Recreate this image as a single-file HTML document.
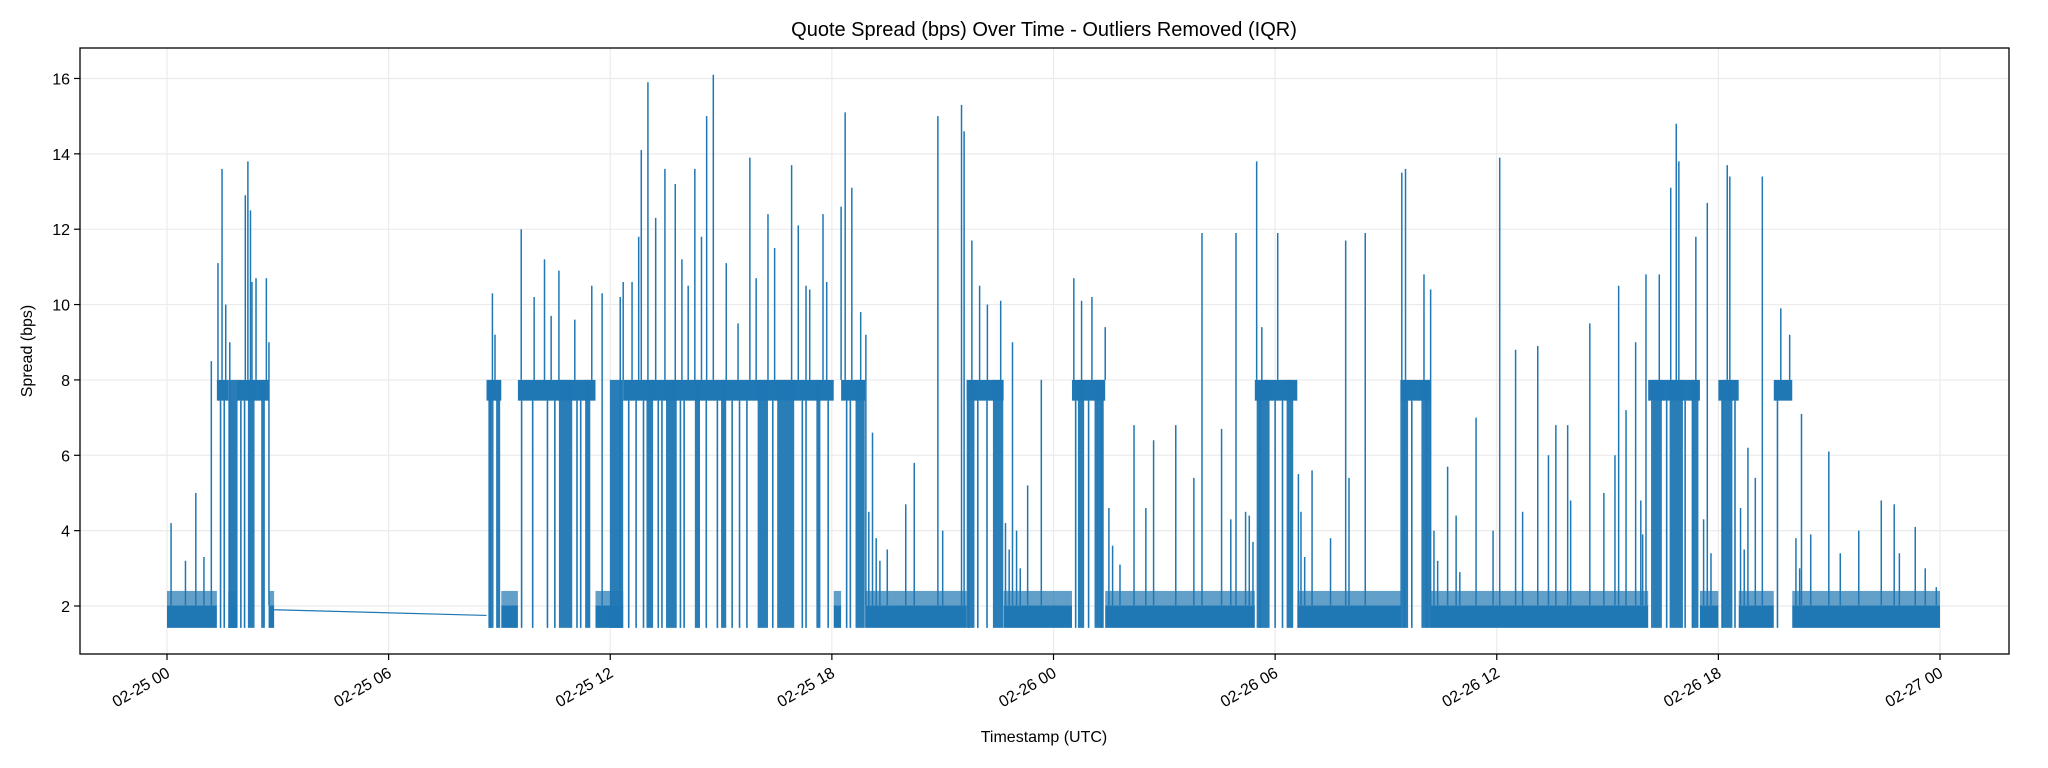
<!DOCTYPE html>
<html><head><meta charset="utf-8"><style>
body{margin:0;background:#fff;}
svg{display:block;font-family:"Liberation Sans",sans-serif;}
</style></head><body>
<svg id="chart" width="2048" height="768" viewBox="0 0 2048 768" xmlns="http://www.w3.org/2000/svg">
<rect width="2048" height="768" fill="#fff"/>
<text x="1044" y="36" text-anchor="middle" font-size="20" fill="#000">Quote Spread (bps) Over Time - Outliers Removed (IQR)</text>
<g id="grid"></g>
<g id="series"></g>
<rect x="80" y="48" width="1929" height="606" fill="none" stroke="#000" stroke-width="1.3"/>
<g id="axes"></g>
<text x="1044" y="742" text-anchor="middle" font-size="16">Timestamp (UTC)</text>
<text transform="translate(32,351) rotate(-90)" text-anchor="middle" font-size="16">Spread (bps)</text>
</svg>
<script>
// ---- data (hours since 02-25 00:00 UTC, spread in bps) ----
const xTickHours = [0, 6, 12, 18, 24, 30, 36, 42, 48];
const xTickLabels = ["02-25 00","02-25 06","02-25 12","02-25 18","02-26 00","02-26 06","02-26 12","02-26 18","02-27 00"];
const yTicks = [2, 4, 6, 8, 10, 12, 14, 16];
const activeSegs = [[0, 2.9], [8.65, 48]];
const highSegs = [[1.35,1.66],[1.9,2.75],[8.65,9.05],[9.5,11.6],[12.35,18.05],[18.25,18.9],[21.65,22.65],[24.5,25.4],[29.45,30.6],[33.4,34.2],[40.1,41.5],[42.0,42.55],[43.5,44.0]];
const denseFills = [[1.66,1.91],[2.19,2.37],[2.55,2.65],[8.70,8.84],[8.91,9.02],[10.61,10.97],[11.32,11.46],[11.99,12.35],[12.98,13.16],[13.51,13.80],[14.29,14.43],[15.0,15.14],[15.99,16.27],[16.52,16.98],[17.58,17.69],[18.64,18.89],[21.65,21.86],[22.36,22.64],[24.66,24.83],[25.11,25.36],[29.5,29.85],[30.31,30.49],[33.39,33.6],[33.96,34.21],[40.22,40.47],[40.68,41.04],[41.28,41.46],[42.09,42.38]];
const dipHours = [1.45,1.55,2.0,2.1,8.75,9.6,9.9,10.3,10.5,11.1,11.2,12.5,12.7,12.9,13.3,13.4,13.9,14.0,14.6,14.9,15.3,15.5,15.7,16.4,17.2,17.3,17.9,18.4,18.5,21.7,21.95,22.2,24.6,24.95,25.3,29.6,30.0,30.2,33.5,33.7,34.1,40.2,40.6,41.1,41.3,42.1,42.45,43.6];
const spikeHours = [0.11,0.78,1.20,1.38,1.49,1.59,1.70,2.12,2.19,2.26,2.30,2.41,2.69,2.76,
 8.81,8.88,9.59,9.94,10.22,10.40,10.61,11.04,11.50,11.78,12.27,12.35,12.59,12.77,12.84,13.02,13.23,13.48,13.76,13.94,14.11,14.29,14.47,14.61,14.79,15.14,15.46,15.78,15.95,16.27,16.45,16.91,17.09,17.30,17.40,17.76,17.86,18.25,18.36,18.54,18.78,18.92,19.10,
 20.23,20.87,21.51,21.58,21.79,22.0,22.21,22.57,22.89,23.67,24.55,24.76,25.04,25.40,26.18,26.71,27.31,28.02,28.55,28.94,29.50,29.64,30.07,30.63,31.91,32.44,33.43,33.53,34.03,34.21,34.67,35.44,36.08,36.51,37.11,37.60,37.92,38.52,39.30,39.76,40.04,40.40,40.71,40.86,40.93,41.39,41.70,42.24,42.31,43.19,43.69,43.93,44.25,44.99,46.41,46.76,47.33,
 0.5,1.0,19.5,20.0,21.0,23.0,23.3,26.5,27.8,28.8,29.2,31.0,31.5,32.0,34.9,35.9,36.7,37.4,38.0,38.9,39.2,39.5,42.8,43.0,44.5,45.3,45.8,46.9,47.6,47.9,
 19.0,19.2,19.3,22.7,22.8,23.1,25.5,25.6,25.8,29.3,29.4,30.7,30.8,34.3,34.4,35.0,39.9,39.95,41.6,41.8,42.6,42.7,44.1,44.2];
const spikeValues = [4.2,5.0,8.5,11.1,13.6,10.0,9.0,12.9,13.8,12.5,10.6,10.7,10.7,9.0,
 10.3,9.2,12.0,10.2,11.2,9.7,10.9,9.6,10.5,10.3,10.2,10.6,10.6,11.8,14.1,15.9,12.3,13.6,13.2,11.2,10.5,13.6,11.8,15.0,16.1,11.1,9.5,13.9,10.7,12.4,11.5,13.7,12.1,10.5,10.4,12.4,10.6,12.6,15.1,13.1,9.8,9.2,6.6,
 5.8,15.0,15.3,14.6,11.7,10.5,10.0,10.1,9.0,8.0,10.7,10.1,10.2,9.4,6.8,6.4,6.8,11.9,6.7,11.9,13.8,9.4,11.9,5.5,11.7,11.9,13.5,13.6,10.8,10.4,5.7,7.0,13.9,8.8,8.9,6.8,6.8,9.5,10.5,9.0,10.8,10.8,13.1,14.8,13.8,11.8,12.7,13.7,13.4,13.4,9.9,9.2,7.1,6.1,4.8,4.7,4.1,
 3.2,3.3,3.5,4.7,4.0,4.0,5.2,4.6,5.4,4.3,4.5,5.6,3.8,5.4,4.4,4.0,4.5,6.0,4.8,5.0,6.0,7.2,6.2,5.4,3.9,3.4,4.0,3.4,3.0,2.5,
 4.5,3.8,3.2,4.2,3.5,3.0,4.6,3.6,3.1,4.4,3.7,4.5,3.3,4.0,3.2,2.9,4.8,3.9,4.3,3.4,4.6,3.5,3.8,3.0];
const gapLine = [[2.9, 1.9], [8.65, 1.75]];
const lowBand = [1.42, 2.02];
const lowHaze = [2.02, 2.4];
const highBand = [7.45, 8.0];

// ---- axis functions ----
const X0 = 167, X1 = 1940, PL = 80, PR = 2009, PT = 48, PB = 654;
const xs = h => X0 + h * (X1 - X0) / 48;
const ys = v => 606 - (v - 2) * 37.68;
const NS = "http://www.w3.org/2000/svg";
const C = "#1f77b4";
function mk(tag, attrs, parent) {
  const e = document.createElementNS(NS, tag);
  for (const k in attrs) e.setAttribute(k, attrs[k]);
  parent.appendChild(e);
  return e;
}
const grid = document.getElementById("grid"), ser = document.getElementById("series"), axes = document.getElementById("axes");
xTickHours.forEach((h, i) => {
  const g = mk("line", {x1: xs(h), x2: xs(h), y1: PT, y2: PB, stroke: "#ebebeb", "stroke-width": 1.2}, grid);
  
  
  const t = mk("line", {x1: xs(h), x2: xs(h), y1: PB, y2: PB + 6, stroke: "#000", "stroke-width": 1.2}, axes);
  
  
  const l = mk("text", {x: xs(h) + 4, y: PB + 22, "text-anchor": "end", "font-size": 16, transform: `rotate(-30 ${xs(h) + 4} ${PB + 22})`}, axes);
  l.textContent = xTickLabels[i];
  
  
});
yTicks.forEach(v => {
  const g = mk("line", {x1: PL, x2: PR, y1: ys(v), y2: ys(v), stroke: "#ebebeb", "stroke-width": 1.2}, grid);
  
  
  const t = mk("line", {x1: PL - 6, x2: PL, y1: ys(v), y2: ys(v), stroke: "#000", "stroke-width": 1.2}, axes);
  
  
  const l = mk("text", {x: PL - 10, y: ys(v) + 6, "text-anchor": "end", "font-size": 16}, axes);
  l.textContent = v;
  
  
});
function band(h0, h1, lo, hi, op, name) {
  const r = mk("rect", {x: xs(h0), y: ys(hi), width: Math.max(1, xs(h1) - xs(h0)), height: ys(lo) - ys(hi), fill: C, opacity: op}, ser);
  
  
}
activeSegs.forEach(([a, b]) => {
  let cur = a;
  highSegs.filter(s => s[0] >= a && s[1] <= b + 0.01).sort((p, q) => p[0] - q[0]).forEach(([s, e]) => {
    if (s > cur) { band(cur, s, lowBand[0], lowBand[1], 1, 'low-band'); band(cur, s, lowHaze[0], lowHaze[1], 0.7, 'low-haze'); }
    cur = Math.max(cur, e);
  });
  if (cur < b) { band(cur, b, lowBand[0], lowBand[1], 1, 'low-band'); band(cur, b, lowHaze[0], lowHaze[1], 0.7, 'low-haze'); }
});
highSegs.forEach(([s, e]) => band(s, e, highBand[0], highBand[1], 1, 'high-band'));
denseFills.forEach(([s, e]) => band(s, e, lowBand[0], highBand[1], 0.95, 'dense-fill'));
dipHours.forEach(h => {
  const l = mk("line", {x1: xs(h), x2: xs(h), y1: ys(highBand[0]), y2: ys(lowBand[0]), stroke: C, "stroke-width": 1.6}, ser);
  
  
});
spikeHours.forEach((h, i) => {
  const inHigh = highSegs.some(([s, e]) => h >= s && h <= e);
  const base = inHigh ? highBand[1] : lowBand[1];
  const l = mk("line", {x1: xs(h), x2: xs(h), y1: ys(base), y2: ys(spikeValues[i]), stroke: C, "stroke-width": 1.5}, ser);
  
  
});
const gl = mk("line", {x1: xs(gapLine[0][0]), y1: ys(gapLine[0][1]), x2: xs(gapLine[1][0]), y2: ys(gapLine[1][1]), stroke: C, "stroke-width": 1.2}, ser);


</script>
</body></html>
